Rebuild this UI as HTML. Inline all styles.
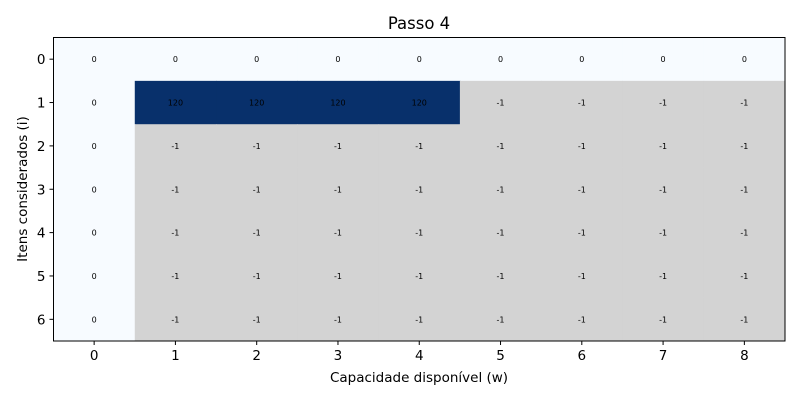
<!DOCTYPE html>
<html><head><meta charset="utf-8"><style>
body{margin:0;background:#fff;}
svg{display:block;font-family:"DejaVu Sans","Liberation Sans",sans-serif;}
</style></head><body>
<svg id="chart" width="800" height="400">
<text x="419" y="29" font-size="16.5" text-anchor="middle">Passo 4</text>
<g id="cells"></g>
<rect x="53.5" y="37.5" width="731.5" height="303.5" fill="none" stroke="#000" stroke-width="1"/>
<g id="axes"></g>
<text x="419" y="382" font-size="13.5" text-anchor="middle">Capacidade disponível (w)</text>
<text transform="translate(27,189) rotate(-90)" font-size="13.5" text-anchor="middle">Itens considerados (i)</text>
</svg>
<script>
const cols = [0,1,2,3,4,5,6,7,8];
const rows = [0,1,2,3,4,5,6];
const row0 = [0,0,0,0,0,0,0,0,0];
const row1 = [0,120,120,120,120,-1,-1,-1,-1];
const row2 = [0,-1,-1,-1,-1,-1,-1,-1,-1];
const row3 = [0,-1,-1,-1,-1,-1,-1,-1,-1];
const row4 = [0,-1,-1,-1,-1,-1,-1,-1,-1];
const row5 = [0,-1,-1,-1,-1,-1,-1,-1,-1];
const row6 = [0,-1,-1,-1,-1,-1,-1,-1,-1];
const values = [row0,row1,row2,row3,row4,row5,row6];

const X0=53.5, X1=785, Y0=37.5, Y1=341;
const cw=(X1-X0)/cols.length, ch=(Y1-Y0)/rows.length;
const xs=c=>X0+c*cw, ys=r=>Y0+r*ch;
function color(v){
  if(v<0) return '#d3d3d3';
  const t=v/120;
  const a=[247,251,255], b=[8,48,107];
  return 'rgb('+a.map((x,i)=>Math.round(x+(b[i]-x)*t)).join(',')+')';
}
const NS='http://www.w3.org/2000/svg';
const g=document.getElementById('cells');
values.forEach((row,r)=>row.forEach((v,c)=>{
  const rc=document.createElementNS(NS,'rect');
  rc.setAttribute('x',xs(c));rc.setAttribute('y',ys(r));
  rc.setAttribute('width',cw+0.5);rc.setAttribute('height',ch+0.5);
  rc.setAttribute('fill',color(v));
  
  
  g.appendChild(rc);
  const t=document.createElementNS(NS,'text');
  t.setAttribute('x',xs(c)+cw/2);t.setAttribute('y',ys(r)+ch/2+3);
  t.setAttribute('font-size','8');t.setAttribute('text-anchor','middle');
  t.textContent=v;
  
  
  g.appendChild(t);
}));
const ax=document.getElementById('axes');
cols.forEach(c=>{
  const x=xs(c)+cw/2;
  const l=document.createElementNS(NS,'line');
  l.setAttribute('x1',x);l.setAttribute('x2',x);l.setAttribute('y1',Y1);l.setAttribute('y2',Y1+4);
  l.setAttribute('stroke','#000');
  
  
  ax.appendChild(l);
  const t=document.createElementNS(NS,'text');
  t.setAttribute('x',x);t.setAttribute('y',Y1+19);t.setAttribute('font-size','13.5');t.setAttribute('text-anchor','middle');
  t.textContent=c;
  
  
  ax.appendChild(t);
});
rows.forEach(r=>{
  const y=ys(r)+ch/2;
  const l=document.createElementNS(NS,'line');
  l.setAttribute('x1',X0-4);l.setAttribute('x2',X0);l.setAttribute('y1',y);l.setAttribute('y2',y);
  l.setAttribute('stroke','#000');
  
  
  ax.appendChild(l);
  const t=document.createElementNS(NS,'text');
  t.setAttribute('x',X0-8);t.setAttribute('y',y+5);t.setAttribute('font-size','13.5');t.setAttribute('text-anchor','end');
  t.textContent=r;
  
  
  ax.appendChild(t);
});
</script>
</body></html>
